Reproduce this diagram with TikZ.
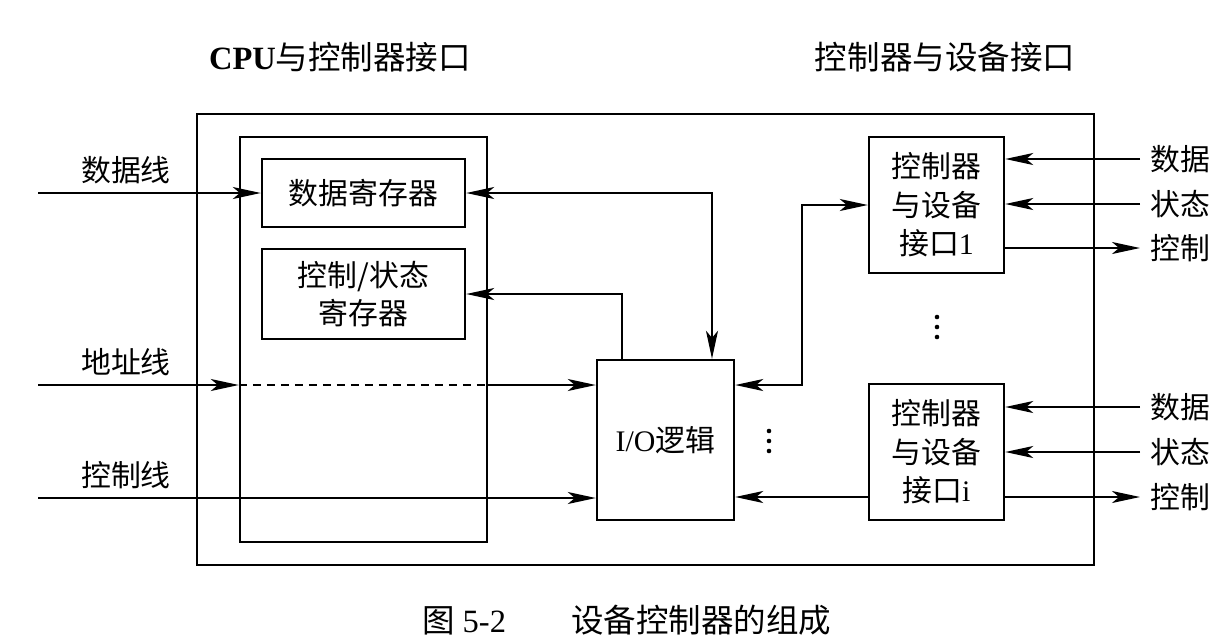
\documentclass[tikz,border=0pt]{standalone}
\usepackage{fontspec}
\setmainfont{Liberation Serif}
\newfontfamily\cjk{Noto Sans CJK SC}
\usetikzlibrary{arrows.meta}

\begin{document}
\begin{tikzpicture}[x=0.02cm, y=-0.02cm, line width=1.1pt,
  box/.style={draw, line width=1.4pt, inner sep=0pt, align=center, font=\fontsize{17}{22}\selectfont\cjk},
  lbl/.style={inner sep=0pt, font=\fontsize{17}{22}\selectfont\cjk},
  ttl/.style={inner sep=0pt, font=\fontsize{18.5}{22}\selectfont\cjk},
  rlbl/.style={lbl, anchor=west, inner xsep=0.2cm},
  tip/.tip={Stealth[length=0.56cm, width=0.24cm, inset=0.14cm]},
  arr/.style={-tip},
  arrs/.style={tip-tip}]
\useasboundingbox (0,0) rectangle (1220,643);

% frames
\node[box, minimum width=17.94cm, minimum height=9.02cm] (ctl) at (645.5,339.5) {};
\node[box, minimum width=4.94cm, minimum height=8.1cm] (cpu) at (363.5,339.5) {};

% titles and caption
\node[ttl] (t1) at (340,57) {{\rmfamily\bfseries CPU}与控制器接口};
\node[ttl] (t2) at (945,57) {控制器与设备接口};
\node[ttl] (cap) at (627,620) {图 {\rmfamily 5-2}\qquad 设备控制器的组成};

% registers and logic
\node[box, minimum width=4.06cm, minimum height=1.36cm] (dr) at (363.5,193) {数据寄存器};
\node[box, minimum width=4.06cm, minimum height=1.8cm] (sr) at (363.5,294) {控制/状态\\寄存器};
\node[box, minimum width=2.74cm, minimum height=3.2cm] (io) at (665.5,440) {{\rmfamily I/O}逻辑};
\node[box, minimum width=2.7cm, minimum height=2.72cm] (d1) at (936.5,205) {控制器\\与设备\\接口{\rmfamily 1}};
\node[box, minimum width=2.7cm, minimum height=2.72cm] (di) at (936.5,452) {控制器\\与设备\\接口{\rmfamily i}};

% bus lines
\node[lbl] (l1) at (126,170) {数据线};
\node[lbl] (l2) at (126,362) {地址线};
\node[lbl] (l3) at (126,475) {控制线};
\coordinate (a1) at (38,193);
\coordinate (a2) at (38,385);
\coordinate (a3) at (38,498);
\draw[arr] (a1) -- (dr.west);
\draw[arr] (a2) -- (a2 -| cpu.west);
\draw[dash pattern=on 0.16cm off 0.12cm] (a2 -| cpu.west) -- (a2 -| cpu.east);
\draw[arr] (a2 -| cpu.east) -- (a2 -| io.west);
\draw[arr] (a3) -- (a3 -| io.west);

% inside the controller
\draw[arrs] (dr.east) -| ([xshift=0.93cm]io.north);
\draw[arr] ([xshift=-0.87cm]io.north) |- (sr.east);
\draw[arrs] ([yshift=1.1cm]io.east) -- ++(67,0) |- (d1.west);
\draw[arr] ([yshift=-0.9cm]di.west) -- ([yshift=-0.9cm]di.west -| io.east);
\foreach \k in {-1,0,1} {
  \fill (937,327+10*\k) circle (1.3pt);
  \fill (769,441+10*\k) circle (1.3pt);
}

% device side
\node[rlbl] (s1) at (1140,159) {数据};
\node[rlbl] (u1) at (1140,204) {状态};
\node[rlbl] (c1) at (1140,248) {控制};
\node[rlbl] (s2) at (1140,407) {数据};
\node[rlbl] (u2) at (1140,452) {状态};
\node[rlbl] (c2) at (1140,497) {控制};
\draw[arr] (s1.west) -- (s1.west -| d1.east);
\draw[arr] (u1.west) -- (u1.west -| d1.east);
\draw[arr] (c1.west -| d1.east) -- (c1.west);
\draw[arr] (s2.west) -- (s2.west -| di.east);
\draw[arr] (u2.west) -- (u2.west -| di.east);
\draw[arr] (c2.west -| di.east) -- (c2.west);
\end{tikzpicture}
\end{document}
